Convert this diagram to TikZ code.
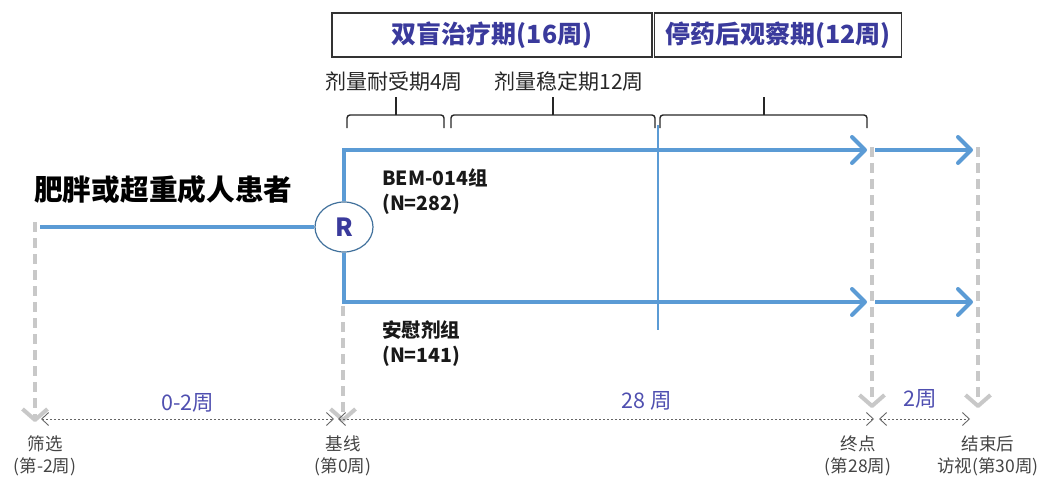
\documentclass[tikz,border=0pt]{standalone}
\usepackage{fontspec}
\setmainfont{Noto Sans CJK SC}
\usetikzlibrary{arrows.meta,shapes.geometric}
\definecolor{blu}{HTML}{5B9BD5}
\definecolor{rline}{HTML}{41719C}
\definecolor{gdash}{HTML}{C8C8C8}
\definecolor{ttl}{HTML}{3A3A9C}
\definecolor{num}{HTML}{4F4FB0}
\definecolor{dtxt}{HTML}{444444}
\definecolor{dot}{HTML}{666666}
\begin{document}
\begin{tikzpicture}[x=1pt,y=-1pt,
  phasebox/.style={draw=black!80,line width=1.6pt,inner sep=0pt,
     font=\fontsize{25}{28}\selectfont\bfseries,text=ttl},
  sublabel/.style={font=\fontsize{21}{24}\selectfont,text=black!85,inner sep=0pt},
  grp/.style={font=\fontsize{19.5}{25}\selectfont\bfseries,align=left,anchor=west,inner sep=0pt,text=black!90},
  bl/.style={draw=blu,line width=4pt},
  blarrow/.style={bl,-{Straight Barb[length=13pt,width=26pt,line cap=round,line join=round]}},
  gd/.style={draw=gdash,line width=4pt,dash pattern=on 10pt off 6pt,
     -{Straight Barb[length=11pt,width=25pt,line join=round]}},
  dotarr/.style={draw=dot,line width=0.9pt,dash pattern=on 2pt off 2pt,
     {Straight Barb[length=7pt,width=13pt]}-{Straight Barb[length=7pt,width=13pt]}},
  numlbl/.style={font=\fontsize{21.5}{24}\selectfont,text=num,inner sep=0pt},
  tick/.style={font=\fontsize{17.5}{21.5}\selectfont,text=dtxt,align=center,inner sep=0pt},
  brk/.style={draw=black!85,line width=1.4pt,rounded corners=3pt}
]
\useasboundingbox (0,0) rectangle (1047,479);

% phase boxes
\node[phasebox,minimum width=320pt,minimum height=44pt] (dbl) at (492,35) {双盲治疗期(16周)};
\node[phasebox,minimum width=247pt,minimum height=44pt] (obs) at (778,35) {停药后观察期(12周)};

% sub labels
\node[sublabel] (tol) at (394,82) {剂量耐受期4周};
\node[sublabel] (stab) at (569,82) {剂量稳定期12周};

% brackets
\draw[brk] (347,128) -- (347,115) -- (444,115) -- (444,128);
\draw[brk] (396,115) -- (396,97);
\draw[brk] (451,128) -- (451,115) -- (655,115) -- (655,128);
\draw[brk] (553,115) -- (553,97);
\draw[brk] (660,128) -- (660,115) -- (867,115) -- (867,128);
\draw[brk] (764,115) -- (764,97);

% title
\node[font=\fontsize{28.7}{31}\selectfont\bfseries,anchor=west,inner sep=0pt] (pop) at (34,190) {肥胖或超重成人患者};

% gray dashed time markers
\coordinate (g1a) at (35,222);  \coordinate (g1b) at (35,422);
\coordinate (g2a) at (343,306); \coordinate (g2b) at (343,422);
\coordinate (g3a) at (872,147); \coordinate (g3b) at (872,408);
\coordinate (g4a) at (978,147); \coordinate (g4b) at (978,408);
\draw[gd] (g1a) -- (g1b);
\draw[gd] (g2a) -- (g2b);
\draw[gd] (g3a) -- (g3b);
\draw[gd] (g4a) -- (g4b);

% thin blue divider
\coordinate (va) at (658,125); \coordinate (vb) at (658,330);
\draw[draw=blu,line width=1.8pt] (va) -- (vb);

% randomisation
\node[ellipse,draw=rline,line width=1.2pt,fill=white,minimum width=58pt,minimum height=50pt,inner sep=0pt,
      font=\fontsize{25}{27}\selectfont\bfseries,text=ttl] (R) at (344,227) {R};
\coordinate (s0) at (40,227);
\draw[bl] (s0) -- (R.west);

\coordinate (t1) at (867,150); \coordinate (t2) at (875,150); \coordinate (t3) at (973,150);
\coordinate (b1) at (867,302); \coordinate (b2) at (875,302); \coordinate (b3) at (973,302);
\draw[blarrow,line join=miter] (R.north) |- (t1);
\draw[blarrow,line join=miter] (R.south) |- (b1);
\draw[blarrow] (t2) -- (t3);
\draw[blarrow] (b2) -- (b3);

% groups
\node[grp] (g1) at (382,192) {BEM-014组\\(N=282)};
\node[grp] (g2) at (382,344) {安慰剂组\\(N=141)};

% dotted intervals
\coordinate (d1a) at (41,419); \coordinate (d1b) at (334,419);
\coordinate (d2a) at (338,419); \coordinate (d2b) at (874,419);
\coordinate (d3a) at (879,419); \coordinate (d3b) at (970,419);
\draw[dotarr] (d1a) -- (d1b);
\draw[dotarr] (d2a) -- (d2b);
\draw[dotarr] (d3a) -- (d3b);
\node[numlbl] (n1) at (188,403) {0-2周};
\node[numlbl] (n2) at (647,401) {28 周};
\node[numlbl] (n3) at (920,399) {2周};

% tick labels
\node[tick] (k1) at (45,456) {筛选\\(第-2周)};
\node[tick] (k2) at (343,456) {基线\\(第0周)};
\node[tick] (k3) at (858,456) {终点\\(第28周)};
\node[tick] (k4) at (988,456) {结束后\\访视(第30周)};
\end{tikzpicture}
\end{document}
